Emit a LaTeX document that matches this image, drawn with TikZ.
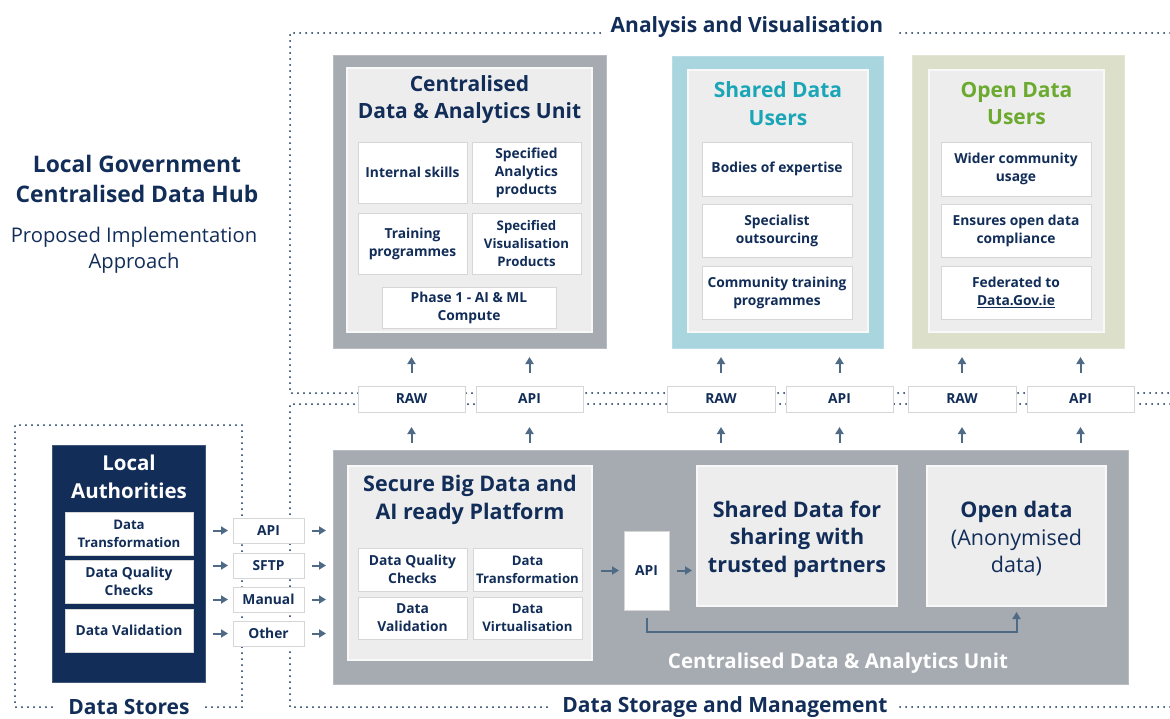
\documentclass[tikz,border=0pt]{standalone}
\usepackage{fontspec}
\setmainfont{Open Sans}
\usetikzlibrary{arrows.meta,calc}
\definecolor{navy}{HTML}{112D58}
\definecolor{greyout}{HTML}{A6ABB1}
\definecolor{lightin}{HTML}{EDEDED}
\definecolor{tealframe}{HTML}{A9D5DF}
\definecolor{tealtext}{HTML}{1AA6B7}
\definecolor{greenframe}{HTML}{DCE0CB}
\definecolor{greentext}{HTML}{6BAA2F}
\definecolor{arrowc}{HTML}{4E6A85}
\definecolor{boxline}{HTML}{D6D6D6}
\newcommand\fs[2]{\fontsize{#1}{#2}\selectfont}
\newcommand\bx[7]{\node[#1, minimum width={#5-#3}, minimum height={#6-#4}] (#2) at ({(#3+#5)/2},{(#4+#6)/2}) {#7};}
\tikzset{
  every node/.style={inner sep=0pt, outer sep=0pt},
  outerg/.style={fill=greyout, draw=greyout!80!white, line width=0.8pt},
  outert/.style={fill=tealframe, draw=tealframe!80!white, line width=0.8pt},
  outergr/.style={fill=greenframe, draw=greenframe!80!white, line width=0.8pt},
  inner/.style={fill=lightin, draw=white!60!lightin, line width=1.2pt},
  wbox/.style={fill=white, draw=boxline, line width=0.8pt, text=navy, align=center, font=\bfseries\fs{13.8}{18}},
  tight/.style={font=\bfseries\fs{13.2}{18}},
  nbox/.style={fill=navy, draw=navy!80!white, line width=0.8pt},
  ttl/.style={text=navy, align=center, font=\bfseries\fs{21}{27.5}},
  bttl/.style={text=navy, align=center, font=\bfseries\fs{21.5}{27.5}},
  sec/.style={text=navy, font=\bfseries\fs{21}{24}},
  arr/.style={draw=arrowc, line width=2pt, -{Triangle[length=7pt,width=8pt]}},
  dots/.style={draw=navy, line width=2pt, line cap=round, dash pattern=on 0pt off 6pt},
}
\begin{document}
\begin{tikzpicture}[x=1pt,y=-1pt]
\useasboundingbox (0,0) rectangle (1170,718);

% ---------- dotted frames ----------
\draw[dots] (600,33) -- (290,33) -- (290,393) -- (1170,393);
\draw[dots] (900,33) -- (1170,33);
\draw[dots] (1170,404) -- (290,404) -- (290,707) -- (550,707);
\draw[dots] (900,707) -- (1170,707);
\draw[dots] (52,707) -- (15,707) -- (15,425) -- (242,425) -- (242,707) -- (206,707);

\node[sec] (secav) at (747,27) {Analysis and Visualisation};
\node[sec] (secds) at (725,707) {Data Storage and Management};
\node[sec] (secst) at (129,707) {Data Stores};

% ---------- left title ----------
\node[text=navy, align=center, font=\bfseries\fs{22.8}{30}] (title) at (137,179) {Local Government\\Centralised Data Hub};
\node[text=navy, align=center, font=\fs{20.2}{25.5}] (subtitle) at (134,250) {Proposed Implementation\\Approach};

% ---------- Centralised Data & Analytics Unit ----------
\bx{outerg}{cuo}{333}{55}{606}{348}{}
\bx{inner}{cui}{347}{68}{592}{332}{}
\node[ttl] (cut) at (469.5,99.5) {Centralised\\Data \& Analytics Unit};
\bx{wbox}{c1}{358}{142}{467}{203}{Internal skills}
\bx{wbox}{c2}{472}{142}{581}{203}{Specified\\Analytics\\products}
\bx{wbox}{c3}{358}{213}{467}{274}{Training\\programmes}
\bx{wbox, tight}{c4}{472}{213}{581}{274}{Specified\\Visualisation\\Products}
\bx{wbox}{c5}{382}{287}{556}{328}{Phase 1 - AI \& ML\\Compute}

% ---------- Shared Data Users ----------
\bx{outert}{suo}{672}{56}{883}{348}{}
\bx{inner}{sui}{688}{70}{868}{332}{}
\node[ttl, text=tealtext] (sut) at (778,103.5) {Shared Data\\Users};
\bx{wbox}{s1}{702}{142}{852}{196}{Bodies of expertise}
\bx{wbox}{s2}{702}{204}{852}{257}{Specialist\\outsourcing}
\bx{wbox}{s3}{702}{266}{852}{319}{Community training\\programmes}

% ---------- Open Data Users ----------
\bx{outergr}{ouo}{912}{55}{1124}{348}{}
\bx{inner}{oui}{929}{70}{1104}{332}{}
\node[ttl, text=greentext] (out) at (1016.5,103.5) {Open Data\\Users};
\bx{wbox}{o1}{941}{142}{1091}{196}{Wider community\\usage}
\bx{wbox}{o2}{941}{204}{1091}{257}{Ensures open data\\compliance}
\bx{wbox}{o3}{941}{266}{1091}{319}{Federated to\\\underline{Data.Gov.ie}}

% ---------- RAW / API row ----------
\bx{wbox}{r1}{358}{386}{465}{412}{RAW}
\bx{wbox}{a1}{476}{386}{583}{412}{API}
\bx{wbox}{r2}{667}{386}{775}{412}{RAW}
\bx{wbox}{a2}{786}{386}{893}{412}{API}
\bx{wbox}{r3}{908}{386}{1016}{412}{RAW}
\bx{wbox}{a3}{1027}{386}{1134}{412}{API}

% ---------- bottom: Centralised platform ----------
\bx{outerg}{bgo}{333}{450}{1128}{684}{}
\bx{inner}{plat}{348}{466}{592}{660}{}
\node[bttl] (platt) at (470,500) {Secure Big Data and\\AI ready Platform};
\bx{wbox}{p1}{358}{548}{467}{591}{Data Quality\\Checks}
\bx{wbox, tight}{p2}{473}{548}{582}{591}{Data\\Transformation}
\bx{wbox}{p3}{358}{597}{467}{639}{Data\\Validation}
\bx{wbox, tight}{p4}{473}{597}{582}{639}{Data\\Virtualisation}
\bx{wbox}{apib}{624}{531}{669}{610}{API}
\bx{inner}{shd}{697}{466}{897}{606}{}
\node[bttl] (shdt) at (797,539) {Shared Data for\\sharing with\\trusted partners};
\bx{inner}{opd}{927}{466}{1106}{606}{}
\node[bttl, font=\fs{21.5}{27.5}] (opdt) at (1016.5,539) {\textbf{Open data}\\(Anonymised\\data)};
\node[text=white, font=\bfseries\fs{20.5}{24}] (bgt) at (838,663) {Centralised Data \& Analytics Unit};

% ---------- Local Authorities ----------
\bx{nbox}{la}{52}{445}{205}{682}{}
\node[ttl, text=white, font=\bfseries\fs{20.5}{28}] (lat) at (129,477) {Local\\Authorities};
\bx{wbox, tight}{l1}{65}{512}{193}{555}{Data\\Transformation}
\bx{wbox}{l2}{65}{560}{193}{603}{Data Quality\\Checks}
\bx{wbox}{l3}{65}{609}{193}{652}{Data Validation}

% ---------- transfer methods ----------
\bx{wbox}{m1}{233}{518}{304}{543}{API}
\bx{wbox}{m2}{233}{553}{304}{578}{SFTP}
\bx{wbox}{m3}{233}{587}{304}{612}{Manual}
\bx{wbox}{m4}{233}{621}{304}{646}{Other}

% ---------- arrows ----------
\foreach \m in {m1,m2,m3,m4}{
  \draw[arr] ($(\m.west)+(-20,0)$) -- ($(\m.west)+(-5,0)$);
  \draw[arr] ($(\m.east)+(8,0)$) -- ($(\m.east)+(22,0)$);
}
\foreach \b in {r1,a1,r2,a2,r3,a3}{
  \draw[arr] ($(\b.north)+(0,-13)$) -- ($(\b.north)+(0,-29)$);
  \draw[arr] ($(\b.south)+(0,31)$) -- ($(\b.south)+(0,15)$);
}
\draw[arr] ($(apib.west)+(-23,0)$) -- ($(apib.west)+(-5,0)$);
\draw[arr] ($(apib.east)+(8,0)$) -- ($(shd.west |- apib.east)+(-5,0)$);
\draw[arr] ($(apib.south)+(0,8)$) -- ++(0,14) -| ($(opd.south)+(0,6)$);
\end{tikzpicture}
\end{document}
